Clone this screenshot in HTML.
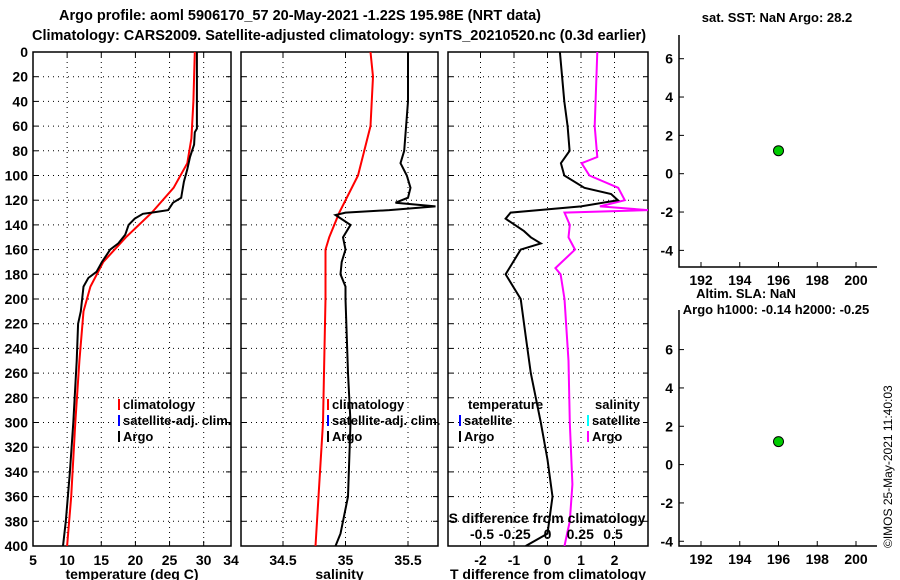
<!DOCTYPE html>
<html><head><meta charset="utf-8"><style>
body{margin:0;background:#fff}
svg{display:block;font-family:"Liberation Sans",sans-serif;font-weight:bold;font-size:14px}
</style></head><body>
<svg id="c" width="900" height="580" xmlns="http://www.w3.org/2000/svg">
<text x="300" y="20" text-anchor="middle" font-size="14.5">Argo profile: aoml 5906170_57 20-May-2021 -1.22S 195.98E (NRT data)</text>
<text x="339" y="40" text-anchor="middle" font-size="14.5">Climatology: CARS2009. Satellite-adjusted climatology: synTS_20210520.nc (0.3d earlier)</text>
<text x="777" y="22" text-anchor="middle" font-size="13">sat. SST: NaN Argo: 28.2</text>
<text x="746" y="298" text-anchor="middle" font-size="13">Altim. SLA: NaN</text>
<text x="776" y="314" text-anchor="middle" font-size="13">Argo h1000: -0.14 h2000: -0.25</text>
<text transform="translate(892,548) rotate(-90)" font-weight="normal" font-size="12">©IMOS 25-May-2021 11:40:03</text>
<g id="g"></g>
</svg>
<script>
const depthTicks=[0,20,40,60,80,100,120,140,160,180,200,220,240,260,280,300,320,340,360,380,400];
const argoTdepth=[0,62,65,75,85,95,105,115,118,122,128,130,131,135,140,148,155,160,170,178,183,190,210,220,250,300,340,380,400];
const argoT=[29.0,29.0,28.7,28.6,28.0,27.6,27.1,26.8,26.7,25.5,24.8,22.4,21.1,19.9,19.0,18.5,17.5,16.3,15.1,14.3,13.1,12.4,12.0,11.6,11.4,10.9,10.4,9.8,9.4];
const climTdepth=[0,40,70,90,110,130,150,170,190,210,250,300,360,400];
const climT=[28.7,28.5,28.2,27.6,25.6,22.4,18.6,15.3,13.4,12.4,11.8,11.2,10.6,10.0];
const argoSdepth=[0,40,80,90,100,110,118,122,125,128,130,132,140,150,160,170,180,190,200,260,300,360,390,400];
const argoS=[35.5,35.5,35.47,35.44,35.49,35.52,35.5,35.4,35.72,35.35,35.0,34.92,35.04,34.98,35.0,34.97,34.96,35.0,35.0,35.02,35.04,35.02,34.96,34.92];
const climSdepth=[0,20,60,100,130,150,160,200,300,400];
const climS=[35.2,35.22,35.2,35.1,34.95,34.87,34.84,34.84,34.82,34.76];
const dTdepth=[0,40,60,80,90,100,110,115,120,125,130,135,145,150,155,160,180,200,230,260,300,330,360,390,400];
const dT=[0.37,0.5,0.6,0.66,0.4,0.5,1.1,1.9,2.1,1.0,-1.1,-1.25,-0.7,-0.5,-0.2,-0.8,-1.25,-0.8,-0.65,-0.5,-0.2,0,0.15,0,-0.65];
const dSdepth=[0,60,85,90,100,110,120,125,128,130,140,150,160,175,180,200,250,300,350,380,390,400];
const dS=[0.38,0.36,0.38,0.26,0.32,0.54,0.59,0.4,0.77,0.13,0.17,0.16,0.21,0.06,0.1,0.13,0.16,0.17,0.19,0.17,0.15,0.13];
const tTicks=[5,10,15,20,25,30,34];
const sTicks=[34.5,35,35.5];
const dTTicks=[-2,-1,0,1,2];
const dSTicks=[-0.5,-0.25,0,0.25,0.5];
const lonTicks=[192,194,196,198,200];
const yTicksR=[-4,-2,0,2,4,6];
const sstPoint=[196,1.2];
const slaPoint=[196,1.2];

const NS="http://www.w3.org/2000/svg",G=document.getElementById('g');
function el(t,a){const e=document.createElementNS(NS,t);for(const k in a)e.setAttribute(k,a[k]);G.appendChild(e);return e;}
function lin(d0,d1,r0,r1){return v=>r0+(v-d0)*(r1-r0)/(d1-d0);}
const Y=lin(0,400,52,546);
function txt(x,y,s,anchor,name,extra){const t=el('text',Object.assign({x:x,y:y,'text-anchor':anchor||'middle'},extra||{}));t.textContent=s;

return t;}
function line(xs,ds,X,color,name){const p=xs.map((v,i)=>X(v).toFixed(1)+','+Y(ds[i]).toFixed(1)).join(' ');
const e=el('polyline',{points:p,fill:'none',stroke:color,'stroke-width':2,'clip-path':'url(#'+curClip+')'});

}
let curClip='';
function panel(x0,x1,X,ticks,labelFn,xlabel,id,leftLabels){
  const cp=el('clipPath',{id:id});const r=document.createElementNS(NS,'rect');
  r.setAttribute('x',x0);r.setAttribute('y',52);r.setAttribute('width',x1-x0);r.setAttribute('height',494);cp.appendChild(r);curClip=id;
  depthTicks.forEach(d=>{if(d>0&&d<400){const g=el('line',{x1:x0,x2:x1,y1:Y(d),y2:Y(d),stroke:'#000','stroke-dasharray':'1,4'});
    
    }
    el('line',{x1:x0,x2:x0+5,y1:Y(d),y2:Y(d),stroke:'#000'});el('line',{x1:x1-5,x2:x1,y1:Y(d),y2:Y(d),stroke:'#000'});
    if(leftLabels)txt(28,Y(d)+5,String(d),'end','depth-tick-label');});
  ticks.forEach(t=>{const x=X(t);if(x>x0+2&&x<x1-2){const g=el('line',{x1:x,x2:x,y1:52,y2:546,stroke:'#000','stroke-dasharray':'1,4'});
    
    }
    el('line',{x1:x,x2:x,y1:546,y2:541,stroke:'#000'});el('line',{x1:x,x2:x,y1:52,y2:57,stroke:'#000'});
    if(labelFn)txt(x,565,labelFn(t),'middle','x-tick-label');});
  const b=el('rect',{x:x0,y:52,width:x1-x0,height:494,fill:'none',stroke:'#000','stroke-width':1.5});
  
  
  txt((x0+x1)/2,579,xlabel,'middle',id+'-x-axis-title');
}
const X1=lin(5,34,33,231);
panel(33,231,X1,tTicks,t=>String(t),'temperature (deg C)','temp-panel',true);
line(climT,climTdepth,X1,'#f00','temp-climatology-line');
line(argoT,argoTdepth,X1,'#000','temp-argo-line');
function leg(x,y,color,label,name){el('rect',{x:x,y:y-10,width:2,height:11,fill:color});txt(x+5,y,label,'start',name,{'font-size':13});}
leg(118,409,'#f00','climatology','legend-climatology');leg(118,425,'#00f','satellite-adj. clim.','legend-satellite');leg(118,441,'#000','Argo','legend-argo');
const X2=lin(34.5,35.5,283,408);
panel(241,438,X2,sTicks,t=>String(t),'salinity','sal-panel',false);
line(climS,climSdepth,X2,'#f00','sal-climatology-line');
line(argoS,argoSdepth,X2,'#000','sal-argo-line');
leg(327,409,'#f00','climatology','legend-climatology-s');leg(327,425,'#00f','satellite-adj. clim.','legend-satellite-s');leg(327,441,'#000','Argo','legend-argo-s');
const X3=lin(0,1,547.5,581);const XS=lin(0,1,547.5,678.5);
panel(448,648,X3,dTTicks,t=>String(t),'T difference from climatology','diff-panel',false);
line(dS,dSdepth,XS,'#f0f','s-diff-line');
line(dT,dTdepth,X3,'#000','t-diff-line');
txt(468,409,'temperature','start','legend-temp-header',{'font-size':13});txt(595,409,'salinity','start','legend-sal-header',{'font-size':13});
leg(459,425,'#00f','satellite','legend-t-satellite');leg(459,441,'#000','Argo','legend-t-argo');
leg(587,425,'#0ff','satellite','legend-s-satellite');leg(587,441,'#f0f','Argo','legend-s-argo');
txt(547,523,'S difference from climatology','middle','s-diff-axis-title');
dSTicks.forEach(t=>txt(XS(t),539,String(t),'middle','s-diff-tick-label'));
function rp(top,bot,y0px,pt,id,lab){
  const XL=lin(192,200,701,856);const YR=lin(0,6,y0px,y0px-115);
  const a=el('path',{d:`M679 ${top} V${bot} H877`,fill:'none',stroke:'#000','stroke-width':1.5});
  
  
  yTicksR.forEach(t=>{el('line',{x1:679,x2:684,y1:YR(t),y2:YR(t),stroke:'#000'});txt(673,YR(t)+5,String(t),'end',id+'-y-tick-label');});
  lonTicks.forEach(t=>{el('line',{x1:XL(t),x2:XL(t),y1:bot,y2:bot-5,stroke:'#000'});if(lab)txt(XL(t),bot+18,String(t),'middle',id+'-x-tick-label');});
  const c=el('circle',{cx:XL(pt[0]),cy:YR(pt[1]),r:5,fill:'#0c0',stroke:'#000'});
  
  
}
rp(35,267,173.7,sstPoint,'sst-panel',true);
rp(310,546,464.6,slaPoint,'sla-panel',true);
</script>
</body></html>
